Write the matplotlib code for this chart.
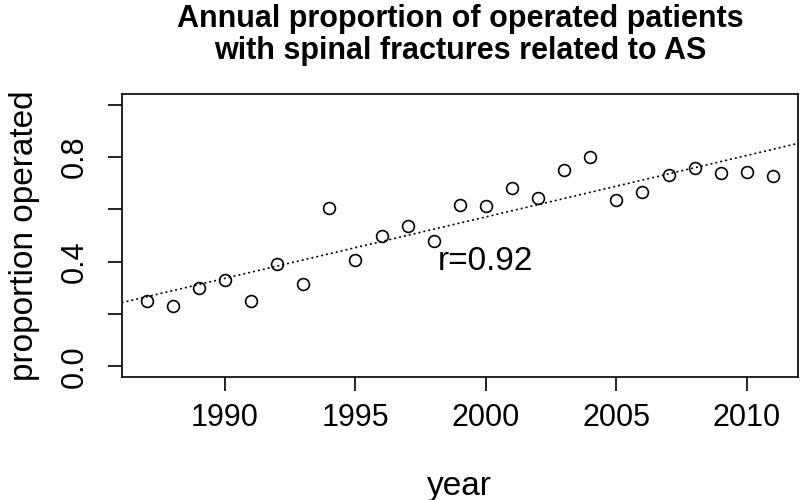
import numpy as np
import matplotlib
matplotlib.use("Agg")
import matplotlib.pyplot as plt

plt.rcParams['font.family'] = ['Liberation Sans', 'DejaVu Sans']

years = np.arange(1987, 2012)
proportion = [0.248, 0.229, 0.300, 0.331, 0.248, 0.390, 0.315, 0.606, 0.406,
              0.499, 0.538, 0.480, 0.617, 0.611, 0.680, 0.642, 0.750, 0.800,
              0.637, 0.666, 0.732, 0.757, 0.739, 0.741, 0.729]
yticks = [0.0, 0.2, 0.4, 0.6, 0.8, 1.0]
ytick_labels = ['0.0', '', '0.4', '', '0.8', '']
xticks = [1990, 1995, 2000, 2005, 2010]
title = "Annual proportion of operated patients\nwith spinal fractures related to AS"
annot = "r=0.92"

fig = plt.figure(figsize=(8, 5), dpi=100)
ax = fig.add_axes([0.152, 0.2466, 0.8455, 0.5648])

ax.plot(years, proportion, linestyle='none', marker='o', markersize=8.5,
        markerfacecolor='none', markeredgecolor='black', markeredgewidth=1.2)

xlim = (1986.04, 2011.96)
slope, intercept = np.polyfit(years, proportion, 1)
xs = np.array(xlim)
ax.plot(xs, slope * xs + intercept, color='black', linewidth=1.2,
        linestyle=(0, (1.2, 1.8)))

ax.set_xlim(*xlim)
ax.set_ylim(-0.04, 1.04)
ax.set_xticks(xticks)
ax.set_xticklabels([str(x) for x in xticks])
ax.set_yticks(yticks)
ax.set_yticklabels(ytick_labels)

for s in ax.spines.values():
    s.set_linewidth(1.2)
ax.tick_params(axis='both', length=10, width=1.2, labelsize=22, colors='black')
ax.tick_params(axis='x', pad=9)
ax.tick_params(axis='y', pad=13)
for lab in ax.get_yticklabels():
    lab.set_rotation(90)
    lab.set_va('center')

ax.text(2000, 0.4, annot, fontsize=24, ha='center', va='center')

ax.set_xlabel("year", fontsize=24, labelpad=27)
ax.set_ylabel("proportion operated", fontsize=24, labelpad=14)

fig.text(0.5749, 0.930, title, fontsize=22, fontweight='bold',
         ha='center', va='center', linespacing=1.05)

fig.savefig("out.png", dpi=100)
